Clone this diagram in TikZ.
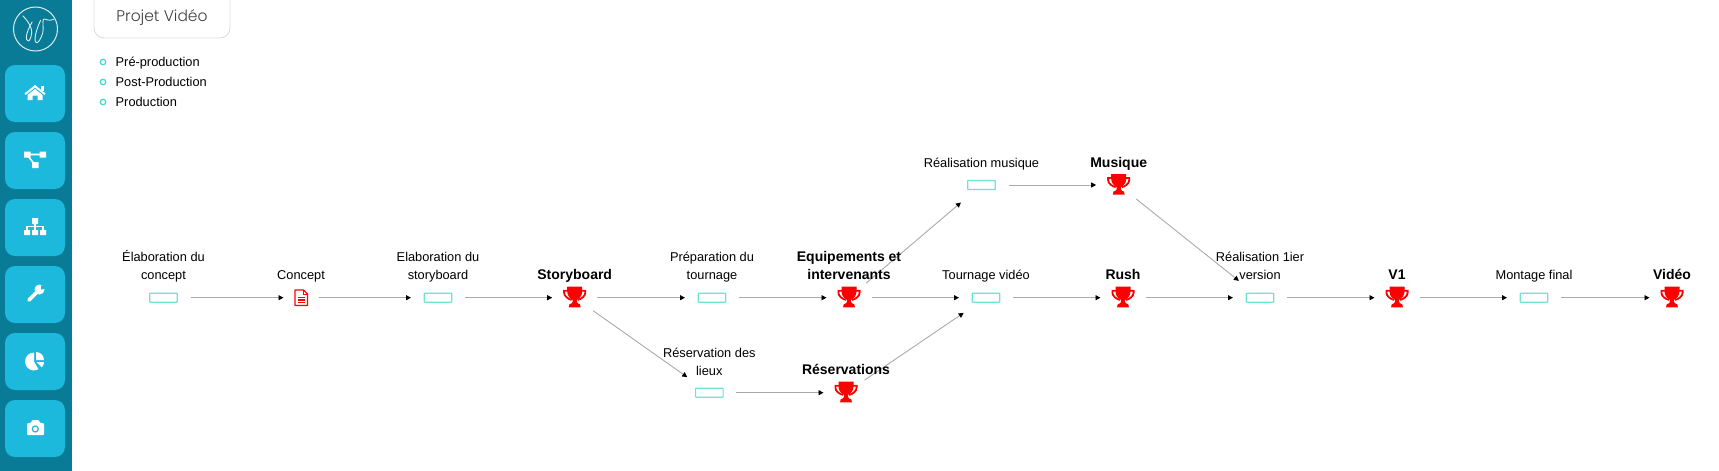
\documentclass[tikz,border=0pt]{standalone}
\usepackage{fontspec}
\setmainfont{Liberation Sans}
\newfontfamily\titlefont{Poppins Light}
\usetikzlibrary{arrows.meta}
\definecolor{sidebar}{HTML}{0A7B97}
\definecolor{btn}{HTML}{1CB9DD}
\definecolor{mint}{HTML}{6FE3D3}
\definecolor{legendmint}{HTML}{3FDCC8}
\definecolor{edgegray}{HTML}{AAAAAA}
\definecolor{framegray}{HTML}{DDDDDD}
\definecolor{prizered}{HTML}{FF0000}
\tikzset{
  x=1pt,y=-1pt,
  hubbox/.style={circle,minimum size=54pt,inner sep=0pt,outer sep=0pt},
  hubcup/.style={circle,minimum size=45pt,inner sep=0pt,outer sep=0pt},
  hubdoc/.style={circle,minimum size=35pt,inner sep=0pt,outer sep=0pt},
  taskbar/.style={draw=mint,line width=1.1pt,fill=white,minimum width=27.5pt,minimum height=9pt,inner sep=0pt,rounded corners=0.5pt},
  link/.style={draw=edgegray,line width=0.9pt,-{Stealth[black,inset=0pt,length=5pt,width=5pt]}},
  lbl/.style={font=\fontsize{12.8}{18}\selectfont,align=center,anchor=base,inner sep=0pt,text=black},
  lblb/.style={font=\fontsize{14}{18}\selectfont\bfseries,align=center,anchor=base,inner sep=0pt,text=black},
  legendtxt/.style={font=\fontsize{12.8}{18}\selectfont,anchor=base west,inner sep=0pt,text=black},
  legenddot/.style={circle,draw=legendmint,line width=1.2pt,minimum size=5.5pt,inner sep=0pt},
  sidebtn/.style={fill=btn,rounded corners=10pt},
  trophy/.pic={
    \fill[prizered] (-7.5,-11) -- (7.5,-11) -- (7.5,-6) .. controls (7.5,-2) and (4.5,1) .. (2.2,2) -- (2.2,4.5)
      .. controls (2.2,6) and (4.5,6) .. (5.2,6.5) -- (6,9.7) -- (-6,9.7) -- (-5.2,6.5) .. controls (-4.5,6) and (-2.2,6) .. (-2.2,4.5)
      -- (-2.2,2) .. controls (-4.5,1) and (-7.5,-2) .. (-7.5,-6) -- cycle;
    \draw[prizered,line width=1.8pt] (-7,-7) -- (-10.6,-7) -- (-10.6,-5) .. controls (-10.6,-1.5) and (-6.5,1.5) .. (-3,2.2);
    \draw[prizered,line width=1.8pt] (7,-7) -- (10.6,-7) -- (10.6,-5) .. controls (10.6,-1.5) and (6.5,1.5) .. (3,2.2);
  },
}
\begin{document}
\begin{tikzpicture}
\useasboundingbox (0,0) rectangle (1719,471);
\fill[white] (0,0) rectangle (1719,471);
% sidebar
\fill[sidebar] (0,0) rectangle (72,471);
\draw[white,line width=1pt,opacity=.85] (35.5,29) circle[radius=22];
\draw[white,line width=0.9pt,opacity=.85,line join=round]
  (22.7,15.7) .. controls (29,22) and (32,28) .. (31.7,33) .. controls (31,39) and (29,41) .. (28.5,41)
  .. controls (25,41) and (25.5,33) .. (32.3,21.7);
\draw[white,line width=0.9pt,opacity=.85,line join=round]
  (54,19.3) .. controls (48,22) and (45,18) .. (43.5,19.3) .. controls (42,22) and (44,28) .. (42.7,33)
  .. controls (41,39) and (38,43) .. (36.7,42.7) .. controls (33,42) and (36,30) .. (40.7,20);
\foreach \yy in {65,132,199,266,333,400} \fill[sidebtn] (5,\yy) rectangle (65,\yy+57);
% home
\fill[white] (35,85) -- (45.5,93.5) -- (44.2,94.8) -- (35,87.6) -- (25.8,94.8) -- (24.5,93.5) -- cycle;
\fill[white] (41,86) rectangle (43.5,91);
\fill[white] (35,89) -- (42.5,95) -- (42.5,100) -- (37.5,100) -- (37.5,95.5) -- (32.5,95.5) -- (32.5,100) -- (27.5,100) -- (27.5,95) -- cycle;
% network
\fill[white] (24,151.5) rectangle (30.5,157.5) (39.5,151.5) rectangle (46,157.5) (32,162) rectangle (38.5,168);
\draw[white,line width=1.6pt] (30,154.5) -- (40,154.5) (28,156) -- (33.5,163);
% sitemap
\fill[white] (32,218) rectangle (38,224) (24,230) rectangle (30,235) (32,230) rectangle (38,235) (40,230) rectangle (46,235);
\draw[white,line width=1.1pt] (35,224) -- (35,230) (27,230) -- (27,226.5) -- (43,226.5) -- (43,230);
% wrench
\draw[white,line width=3.6pt,line cap=round] (29,300) -- (38,291);
\fill[white] (39.5,289.5) circle[radius=5];
\fill[btn] (41,285.5) -- (45,285) -- (45,289) -- (41.2,289.5) -- cycle;
% pie
\fill[white] (34,361.5) -- (34,352.5) arc[start angle=270,end angle=60,radius=9] -- cycle;
\fill[white] (36,360) -- (36,352) arc[start angle=270,end angle=360,radius=8] -- cycle;
\fill[white] (36.5,362) -- (44,362) arc[start angle=0,end angle=45,radius=7.5] -- cycle;
% camera
\fill[white,rounded corners=1pt] (27,423) -- (31,423) -- (32,420) -- (39,420) -- (40,423) -- (44,423) -- (44,435) -- (27,435) -- cycle;
\draw[btn,line width=1.2pt] (35.3,429) circle[radius=3];
% title
\draw[framegray,line width=0.9pt,rounded corners=10pt] (94,-12) rectangle (230,38);
\node[font=\fontsize{15.5}{18}\selectfont\titlefont,text=black!75,inner sep=0pt] (title) at (162,18) {Projet Vidéo};
% legend
\node[legenddot] (d1) at (103,62) {};
\node[legenddot] (d2) at (103,82) {};
\node[legenddot] (d3) at (103,102) {};
\node[legendtxt] (t1) at (115.5,66) {Pré-production};
\node[legendtxt] (t2) at (115.5,86) {Post-Production};
\node[legendtxt] (t3) at (115.5,106) {Production};
% hubs
\node[hubbox] (a) at (163.5,297.7) {};
\node[hubdoc] (b) at (301,297.7) {};
\node[hubbox] (c) at (438,297.7) {};
\node[hubcup] (d) at (574.7,297.7) {};
\node[hubbox] (e) at (712,297.7) {};
\node[hubcup] (f) at (849,297.7) {};
\node[hubbox] (g) at (986,297.7) {};
\node[hubcup] (h) at (1123,297.7) {};
\node[hubbox] (i) at (1260,297.7) {};
\node[hubcup] (j) at (1397,297.7) {};
\node[hubbox] (k) at (1534,297.7) {};
\node[hubcup] (l) at (1672,297.7) {};
\node[hubbox] (m) at (981.5,185) {};
\node[hubcup] (n) at (1118.7,185) {};
\node[hubbox] (o) at (709.3,392.7) {};
\node[hubcup] (p) at (846,392.7) {};
% connectors
\draw[link] (a) -- (b);
\draw[link] (b) -- (c);
\draw[link] (c) -- (d);
\draw[link] (d) -- (e);
\draw[link] (e) -- (f);
\draw[link] (f) -- (g);
\draw[link] (g) -- (h);
\draw[link] (h) -- (i);
\draw[link] (i) -- (j);
\draw[link] (j) -- (k);
\draw[link] (k) -- (l);
\draw[link] (m) -- (n);
\draw[link] (o) -- (p);
\draw[link] (d) -- (o);
\draw[link] (f) -- (m);
\draw[link] (p) -- (g);
\draw[link] (n) -- (i);
% task bars
\node[taskbar] (ba) at (a) {};
\node[taskbar] (bc) at (c) {};
\node[taskbar] (be) at (e) {};
\node[taskbar] (bg) at (g) {};
\node[taskbar] (bi) at (i) {};
\node[taskbar] (bk) at (k) {};
\node[taskbar] (bm) at (m) {};
\node[taskbar] (bo) at (o) {};
% trophies
\foreach \hub in {d,f,h,j,l,n,p} \pic at (\hub) {trophy};
% document icon
\draw[prizered,line width=1.2pt,line join=round] (295,290) -- (303.5,290) -- (307.5,294) -- (307.5,305.5) -- (295,305.5) -- cycle;
\draw[prizered,line width=1pt] (303.5,290) -- (303.5,294) -- (307.5,294);
\draw[prizered,line width=1.2pt] (297.5,297.5) -- (305,297.5) (297.5,300) -- (305,300) (297.5,302.5) -- (305,302.5);
% labels
\node[lbl] (la) at (163.5,279) {Élaboration du\\concept};
\node[lbl] (lb) at (301,279) {Concept};
\node[lbl] (lc) at (438,279) {Elaboration du\\storyboard};
\node[lblb] (ld) at (574.7,279) {Storyboard};
\node[lbl] (le) at (712,279) {Préparation du\\tournage};
\node[lblb] (lf) at (849,279) {Equipements et\\intervenants};
\node[lbl] (lg) at (986,279) {Tournage vidéo};
\node[lblb] (lh) at (1123,279) {Rush};
\node[lbl] (li) at (1260,279) {Réalisation 1ier\\version};
\node[lblb] (lj) at (1397,279) {V1};
\node[lbl] (lk) at (1534,279) {Montage final};
\node[lblb] (ll) at (1672,279) {Vidéo};
\node[lbl] (lm) at (981.5,167) {Réalisation musique};
\node[lblb] (ln) at (1118.7,167) {Musique};
\node[lbl] (lo) at (709.3,375) {Réservation des\\lieux};
\node[lblb] (lp) at (846,374) {Réservations};
\end{tikzpicture}
\end{document}
